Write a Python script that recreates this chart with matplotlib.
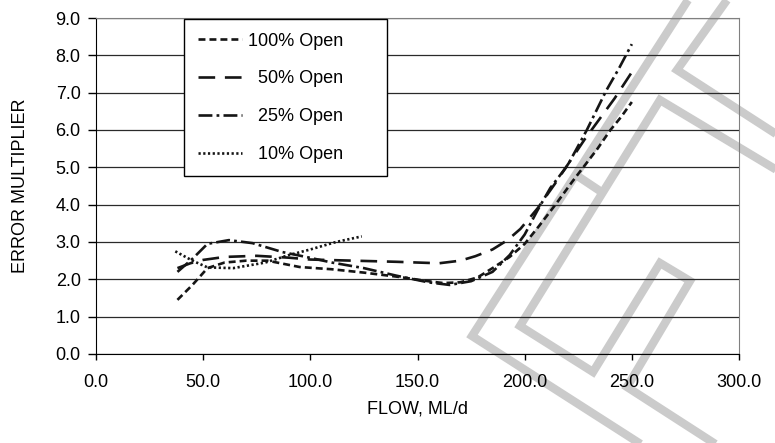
import numpy as np
import matplotlib.pyplot as plt
from matplotlib.lines import Line2D

plt.rcParams['font.family'] = ['Liberation Sans', 'DejaVu Sans']
plt.rcParams['lines.scale_dashes'] = False

# series (flow ML/d, error multiplier)
flow_100 = [38, 45, 52, 60, 70, 80, 95, 110, 125, 142, 155, 162, 170, 178, 185, 193, 200, 207, 215, 222, 228, 234, 240, 245, 250]
err_100 = [1.45, 1.85, 2.3, 2.45, 2.5, 2.5, 2.33, 2.27, 2.18, 2.06, 1.95, 1.9, 1.92, 2.05, 2.3, 2.6, 2.95, 3.45, 4.05, 4.6, 5.05, 5.5, 6.0, 6.35, 6.75]

flow_50 = [38, 44, 50, 60, 75, 90, 100, 120, 140, 160, 170, 177, 185, 192, 198, 206, 214, 221, 228, 235, 242, 250]
err_50 = [2.3, 2.43, 2.52, 2.6, 2.63, 2.58, 2.53, 2.5, 2.47, 2.43, 2.5, 2.62, 2.8, 3.05, 3.35, 3.9, 4.55, 5.15, 5.75, 6.3, 6.85, 7.55]

flow_25 = [38, 45, 52, 62, 73, 87, 98, 110, 125, 140, 155, 165, 175, 185, 193, 200, 206, 212, 220, 229, 238, 244, 250]
err_25 = [2.2, 2.55, 2.95, 3.05, 2.97, 2.73, 2.6, 2.45, 2.3, 2.1, 1.92, 1.85, 1.95, 2.2, 2.65, 3.2, 3.85, 4.45, 5.05, 6.0, 7.05, 7.65, 8.3]

flow_10 = [37, 45, 52, 64, 79, 90, 100, 112, 124]
err_10 = [2.75, 2.5, 2.32, 2.3, 2.45, 2.65, 2.8, 3.0, 3.15]

labels = ['100% Open', '\u200750% Open', '\u200725% Open', '\u200710% Open']
x_ticks = [0, 50, 100, 150, 200, 250, 300]
y_ticks = [0, 1, 2, 3, 4, 5, 6, 7, 8, 9]

W, H = 775, 443
fig = plt.figure(figsize=(W / 100, H / 100), dpi=100)
ax = fig.add_axes([96 / W, 1 - 354 / H, 643 / W, 336 / H])
ax.set_facecolor('none')

# grey watermark outline behind the chart (figure pixel coords)
watermark = [
    [(688, 0), (472, 336), (650, 450)],
    [(727, 0), (677, 70), (790, 143)],
    [(790, 178), (660, 100), (520, 326), (593, 372), (660, 263), (690, 281), (627, 387), (720, 447)],
    [(573, 173), (603, 193)],
]
for pts in watermark:
    xs = [p[0] / W for p in pts]
    ys = [1 - p[1] / H for p in pts]
    fig.add_artist(Line2D(xs, ys, transform=fig.transFigure, color='#cbcbcb',
                          lw=6, zorder=-1, solid_joinstyle='miter', solid_capstyle='butt'))

lw = 1.9
col = '#151515'
ax.plot(flow_100, err_100, color=col, lw=lw, dashes=(5, 2.9), label=labels[0])
ax.plot(flow_50, err_50, color=col, lw=lw, dashes=(12, 7), label=labels[1])
ax.plot(flow_25, err_25, color=col, lw=lw, dashes=(10, 3, 2, 3), label=labels[2])
ax.plot(flow_10, err_10, color=col, lw=lw, dashes=(1.6, 1.8), label=labels[3])

ax.set_xlim(0, 300)
ax.set_ylim(0, 9)
ax.set_xticks(x_ticks)
ax.set_yticks(y_ticks)
ax.set_xticklabels(['%.1f' % v for v in x_ticks])
ax.set_yticklabels(['%.1f' % v for v in y_ticks])
ax.tick_params(axis='x', direction='out', length=4.5, width=1, pad=10, labelsize=13)
ax.tick_params(axis='y', direction='out', length=6, width=1, pad=5, labelsize=13)

ax.yaxis.grid(True, color='#2a2a2a', lw=0.9)
ax.set_axisbelow(True)
for s in ['top', 'right']:
    ax.spines[s].set_color('#808080')
for s in ['left', 'bottom']:
    ax.spines[s].set_color('black')

ax.set_xlabel('FLOW, ML/d', fontsize=13, labelpad=7)
ax.set_ylabel('ERROR MULTIPLIER', fontsize=13, labelpad=19)

leg = ax.legend(loc='upper left', bbox_to_anchor=(0.137, 0.54, 0.3156, 0.457), mode='expand',
                borderaxespad=0, fontsize=13, handlelength=2.45, handletextpad=0.35,
                labelspacing=1.15, borderpad=0.75, fancybox=False, framealpha=1)
leg.get_frame().set_edgecolor('black')
leg.get_frame().set_linewidth(1)

fig.savefig('out.png', dpi=100)
